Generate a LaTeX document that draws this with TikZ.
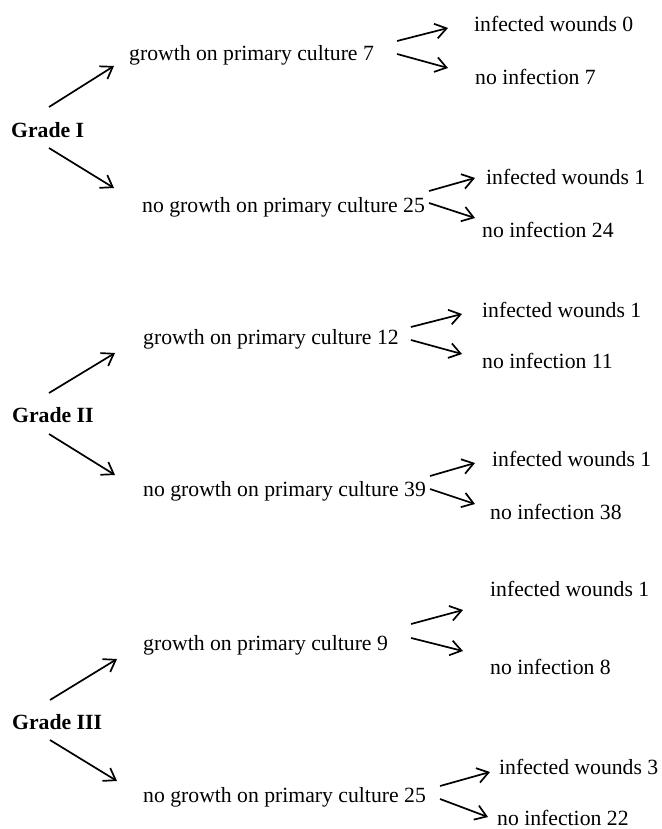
\documentclass[tikz,border=0pt]{standalone}
\usepackage{fontspec}
\setmainfont{Liberation Serif}
\usetikzlibrary{arrows.meta}

\begin{document}
\begin{tikzpicture}[
        x=1pt, y=-1pt,
        every node/.style={inner sep=0pt, anchor=base west, font=\fontsize{21.7}{26}\selectfont},
        grade/.style={font=\fontsize{21.7}{26}\selectfont\bfseries},
        arrow/.style={-{Straight Barb[length=11pt, width=15pt]}, line width=1.7pt}
        ]
        \useasboundingbox (0,0) rectangle (661,829);

        % Nodes -- Grade I
        \node (g1) [grade] at (11,138) {Grade I};
        \node (gp1) at (129,61) {growth on primary culture 7};
        \node (ng1) at (142,212) {no growth on primary culture 25};
        \node (iw1a) at (474,32) {infected wounds 0};
        \node (ni1a) at (475,85) {no infection 7};
        \node (iw1b) at (486,185) {infected wounds 1};
        \node (ni1b) at (482,237) {no infection 24};

        % Nodes -- Grade II
        \node (g2) [grade] at (12,422) {Grade II};
        \node (gp2) at (143,344) {growth on primary culture 12};
        \node (ng2) at (143,496) {no growth on primary culture 39};
        \node (iw2a) at (482,317) {infected wounds 1};
        \node (ni2a) at (482,368) {no infection 11};
        \node (iw2b) at (492,466) {infected wounds 1};
        \node (ni2b) at (490,519) {no infection 38};

        % Nodes -- Grade III
        \node (g3) [grade] at (12,729) {Grade III};
        \node (gp3) at (143,650) {growth on primary culture 9};
        \node (ng3) at (143,802) {no growth on primary culture 25};
        \node (iw3a) at (490,596) {infected wounds 1};
        \node (ni3a) at (490,674) {no infection 8};
        \node (iw3b) at (499,774) {infected wounds 3};
        \node (ni3b) at (497,825) {no infection 22};

        % Arrows -- Grade I
        \draw [arrow] ([shift={(38,-31)}]g1.base west) -- ([shift={(-15,5)}]gp1.base west);
        \draw [arrow] ([shift={(38,10)}]g1.base west) -- ([shift={(-28,-24)}]ng1.base west);
        \draw [arrow] ([shift={(23,-20)}]gp1.base east) -- ([shift={(-26,-4)}]iw1a.base west);
        \draw [arrow] ([shift={(23,-7)}]gp1.base east) -- ([shift={(-27,-17)}]ni1a.base west);
        \draw [arrow] ([shift={(4,-21)}]ng1.base east) -- ([shift={(-11,-7)}]iw1b.base west);
        \draw [arrow] ([shift={(4,-9)}]ng1.base east) -- ([shift={(-7,-19)}]ni1b.base west);

        % Arrows -- Grade II
        \draw [arrow] ([shift={(37,-29)}]g2.base west) -- ([shift={(-28,9)}]gp2.base west);
        \draw [arrow] ([shift={(37,12)}]g2.base west) -- ([shift={(-28,-21)}]ng2.base west);
        \draw [arrow] ([shift={(12,-17)}]gp2.base east) -- ([shift={(-20,-3)}]iw2a.base west);
        \draw [arrow] ([shift={(12,-4)}]gp2.base east) -- ([shift={(-20,-14)}]ni2a.base west);
        \draw [arrow] ([shift={(4,-20)}]ng2.base east) -- ([shift={(-17,-3)}]iw2b.base west);
        \draw [arrow] ([shift={(4,-7)}]ng2.base east) -- ([shift={(-15,-15)}]ni2b.base west);

        % Arrows -- Grade III
        \draw [arrow] ([shift={(38,-29)}]g3.base west) -- ([shift={(-26,9)}]gp3.base west);
        \draw [arrow] ([shift={(38,11)}]g3.base west) -- ([shift={(-26,-21)}]ng3.base west);
        \draw [arrow] ([shift={(23,-26)}]gp3.base east) -- ([shift={(-27,14)}]iw3a.base west);
        \draw [arrow] ([shift={(23,-12)}]gp3.base east) -- ([shift={(-27,-23)}]ni3a.base west);
        \draw [arrow] ([shift={(14,-16)}]ng3.base east) -- ([shift={(-9,-2)}]iw3b.base west);
        \draw [arrow] ([shift={(14,-3)}]ng3.base east) -- ([shift={(-9,-8)}]ni3b.base west);

    \end{tikzpicture}
\end{document}
